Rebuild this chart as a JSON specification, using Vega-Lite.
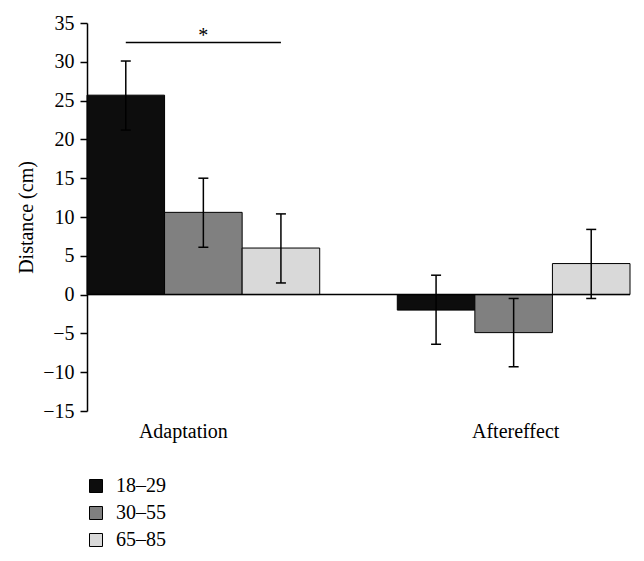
{
  "$schema": "https://vega.github.io/schema/vega-lite/v6.json",
  "width": 543,
  "height": 388,
  "autosize": {"type": "none"},
  "padding": {"left": 87, "top": 23, "right": 14, "bottom": 150},
  "background": "white",
  "config": {
    "view": {"stroke": null},
    "font": "Liberation Serif",
    "text": {"font": "Liberation Serif"}
  },
  "datasets": {
    "bars": [
      {"phase": "Adaptation", "age": "18–29", "mean": 25.7, "low": 21.2, "high": 30.1},
      {"phase": "Adaptation", "age": "30–55", "mean": 10.6, "low": 6.1, "high": 15.0},
      {"phase": "Adaptation", "age": "65–85", "mean": 6.0, "low": 1.5, "high": 10.4},
      {"phase": "Aftereffect", "age": "18–29", "mean": -2.0, "low": -6.4, "high": 2.5},
      {"phase": "Aftereffect", "age": "30–55", "mean": -4.9, "low": -9.3, "high": -0.5},
      {"phase": "Aftereffect", "age": "65–85", "mean": 4.0, "low": -0.5, "high": 8.4}
    ],
    "sig": [
      {"phase": "Adaptation", "age": "18–29", "y": 32.5},
      {"phase": "Adaptation", "age": "65–85", "y": 32.5}
    ],
    "star": [
      {"phase": "Adaptation", "age": "30–55", "y": 32.5, "label": "*"}
    ]
  },
  "encoding": {
    "x": {
      "field": "phase",
      "type": "nominal",
      "scale": {"paddingInner": 0.25, "paddingOuter": 0},
      "axis": {
        "orient": "bottom",
        "title": null,
        "domain": false,
        "ticks": false,
        "labelAngle": 0,
        "labelFontSize": 20,
        "labelColor": "black",
        "labelPadding": 10,
        "labelOffset": {"condition": {"test": "datum.value === 'Adaptation'", "value": -20}, "value": 2}
      }
    },
    "xOffset": {
      "field": "age",
      "type": "nominal",
      "scale": {"domain": ["18–29", "30–55", "65–85"], "paddingInner": 0, "paddingOuter": 0}
    }
  },
  "layer": [
    {
      "data": {"name": "bars"},
      "mark": {"type": "bar", "stroke": "black", "strokeWidth": 1},
      "encoding": {
        "y": {
          "field": "mean",
          "type": "quantitative",
          "scale": {"domain": [-15, 35], "nice": false, "zero": false},
          "axis": {
            "values": [-15, -10, -5, 0, 5, 10, 15, 20, 25, 30, 35],
            "tickCount": 20,
            "labelOverlap": false,
            "grid": false,
            "tickSize": 7,
            "tickWidth": 1.5,
            "domainWidth": 1.5,
            "domainColor": "black",
            "tickColor": "black",
            "labelFontSize": 20,
            "labelColor": "black",
            "labelPadding": 6,
            "title": "Distance (cm)",
            "titleFontSize": 20,
            "titleFontWeight": "normal",
            "titleColor": "black",
            "titlePadding": 6
          }
        },
        "y2": {"datum": 0},
        "color": {
          "field": "age",
          "type": "nominal",
          "scale": {"domain": ["18–29", "30–55", "65–85"], "range": ["#0d0d0d", "#808080", "#d9d9d9"]},
          "legend": {
            "orient": "none",
            "legendX": -1,
            "legendY": 453,
            "title": null,
            "padding": 0,
            "symbolType": "square",
            "symbolSize": 169,
            "symbolStrokeColor": "black",
            "symbolStrokeWidth": 1,
            "symbolOpacity": 1,
            "labelFontSize": 20,
            "labelColor": "black",
            "labelOffset": 10,
            "rowPadding": 7
          }
        }
      }
    },
    {
      "data": {"values": [{}]},
      "mark": {"type": "rule", "color": "black", "strokeWidth": 1.5},
      "encoding": {"y": {"datum": 0}, "x": null, "xOffset": null}
    },
    {
      "data": {"name": "bars"},
      "mark": {"type": "rule", "color": "black", "strokeWidth": 1.5},
      "encoding": {
        "y": {"field": "low", "type": "quantitative"},
        "y2": {"field": "high"}
      }
    },
    {
      "data": {"name": "bars"},
      "mark": {"type": "tick", "color": "black", "size": 10, "thickness": 1.5, "orient": "horizontal", "opacity": 1},
      "encoding": {
        "y": {"field": "low", "type": "quantitative"}
      }
    },
    {
      "data": {"name": "bars"},
      "mark": {"type": "tick", "color": "black", "size": 10, "thickness": 1.5, "orient": "horizontal", "opacity": 1},
      "encoding": {
        "y": {"field": "high", "type": "quantitative"}
      }
    },
    {
      "data": {"name": "sig"},
      "mark": {"type": "line", "color": "black", "strokeWidth": 1.5},
      "encoding": {
        "y": {"field": "y", "type": "quantitative"}
      }
    },
    {
      "data": {"name": "star"},
      "mark": {"type": "text", "color": "black", "fontSize": 20, "baseline": "alphabetic", "dy": 0},
      "encoding": {
        "y": {"field": "y", "type": "quantitative"},
        "text": {"field": "label"}
      }
    }
  ]
}
